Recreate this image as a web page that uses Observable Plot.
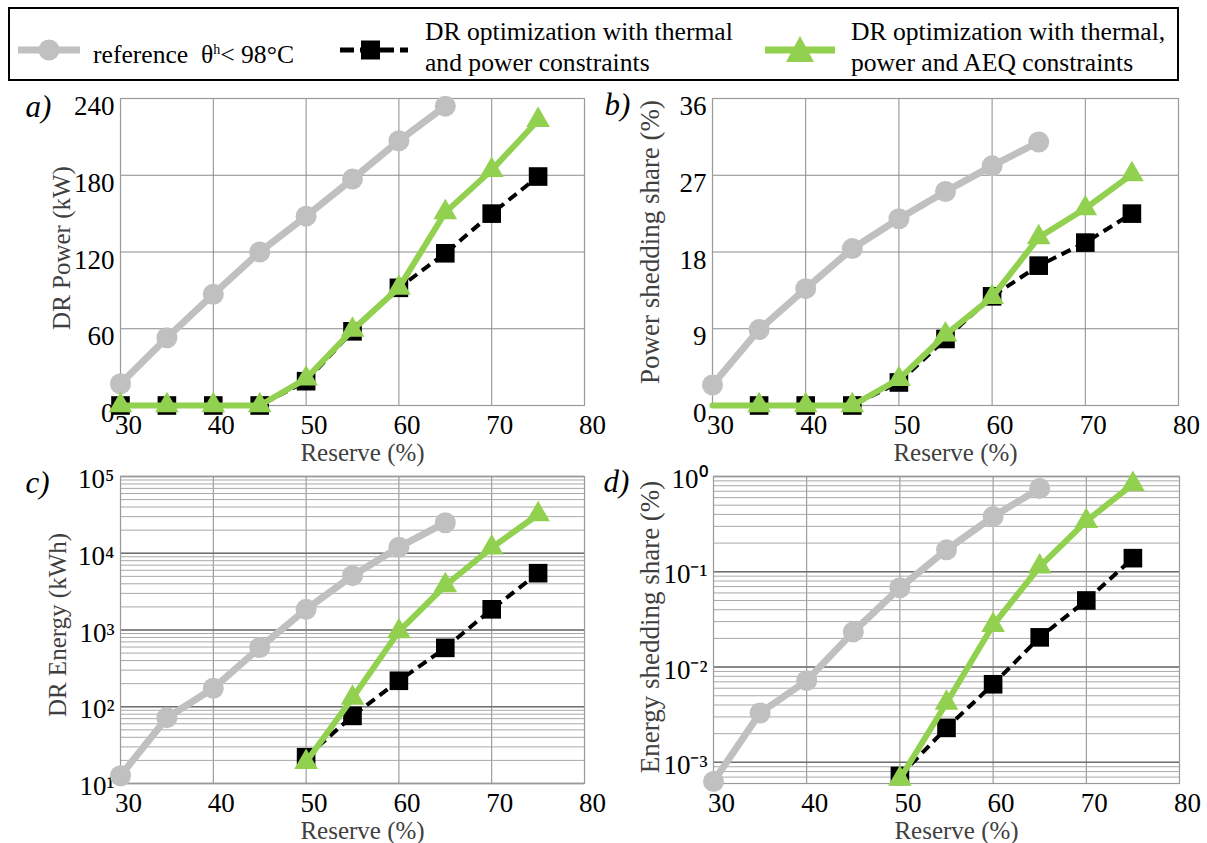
<!DOCTYPE html>
<html><head><meta charset="utf-8">
<script src="https://cdn.jsdelivr.net/npm/d3@7"></script>
<script src="https://cdn.jsdelivr.net/npm/@observablehq/plot@0.6"></script>
<style>
body{margin:0;background:#fff;font-family:"Liberation Serif","Times New Roman",serif;}
#root{position:relative;width:1207px;height:843px;overflow:hidden;background:#fff;}
.abs{position:absolute;}
#legendBox{left:8px;top:7px;width:1171px;height:74px;border:2px solid #000;box-sizing:border-box;}
.ltext{font-size:25.6px;line-height:31px;color:#000;white-space:nowrap;}
</style>
</head><body>
<div id="root">
  <div id="legendBox" class="abs"></div>
  <svg class="abs" style="left:18px;top:35px" width="64" height="30">
    <line x1="0" x2="62" y1="15" y2="15" stroke="#c0c0c0" stroke-width="7"/>
    <circle cx="31" cy="15" r="10.5" fill="#c0c0c0"/>
  </svg>
  <div class="abs ltext" style="left:93px;top:34px">reference&nbsp; θ<sup style="font-size:14px;vertical-align:9px">h</sup>&lt; 98°C</div>
  <svg class="abs" style="left:340px;top:35px" width="70" height="30">
    <line x1="0" x2="68" y1="15" y2="15" stroke="#000" stroke-width="5" stroke-dasharray="14,6"/>
    <rect x="21" y="5.5" width="19" height="19" fill="#000"/>
  </svg>
  <div class="abs ltext" style="left:425px;top:16px">DR optimization with thermal<br>and power constraints</div>
  <svg class="abs" style="left:765px;top:35px" width="70" height="30">
    <line x1="0" x2="70" y1="15" y2="15" stroke="#92d050" stroke-width="7"/>
    <polygon points="35,1 49,27 21,27" fill="#92d050"/>
  </svg>
  <div class="abs ltext" style="left:851px;top:16px">DR optimization with thermal,<br>power and AEQ constraints</div>
  <div id="pa" class="abs" style="left:0;top:85px"></div>
  <div id="pb" class="abs" style="left:600px;top:85px"></div>
  <div id="pc" class="abs" style="left:0;top:465px"></div>
  <div id="pd" class="abs" style="left:600px;top:465px"></div>
</div>
<script>
// ---- data (Reserve %) ----
const reserve = [30, 35, 40, 45, 50, 55, 60, 65, 70, 75];
const reserveRef = [30, 35, 40, 45, 50, 55, 60, 65];
const reserveHigh = [50, 55, 60, 65, 70, 75];

// a) DR Power (kW)
const refPower   = [17, 53, 87, 120, 148, 177, 207, 234];
const thermPower = [0, 0, 0, 0, 19, 58, 92, 119, 150, 179];
const aeqPower   = [0, 0, 0, 0, 21, 59, 92, 151, 184, 223];

// b) Power shedding share (%)
const refPowerShare   = [2.4, 8.9, 13.7, 18.4, 21.9, 25.1, 28.1, 30.9];
const thermPowerShare = [0, 0, 0, 0, 2.7, 7.8, 12.8, 16.4, 19.1, 22.5];
const aeqPowerShare   = [0, 0, 0, 0, 3.1, 8.3, 12.7, 19.7, 23.1, 27.1];

// c) DR Energy (kWh)
const refEnergy   = [12.6, 72, 174, 590, 1860, 5100, 12000, 25000];
const thermEnergy = [22, 76, 218, 585, 1860, 5500];
const aeqEnergy   = [19, 130, 960, 3800, 11800, 32000];

// d) Energy shedding share (%)
const refEnergyShare   = [6.3e-4, 3.3e-3, 7.2e-3, 0.0234, 0.068, 0.17, 0.38, 0.75];
const thermEnergyShare = [7.2e-4, 2.3e-3, 6.6e-3, 0.0205, 0.050, 0.139];
const aeqEnergyShare   = [6.7e-4, 4.2e-3, 0.0276, 0.113, 0.34, 0.83];

// tick labels
const xTicks = [30, 40, 50, 60, 70, 80];
const xGrid = [40, 50, 60, 70];
const powerTicks = [0, 60, 120, 180, 240];
const powerShareTicks = [0, 9, 18, 27, 36];
const energyTicks = [10, 100, 1000, 10000, 100000];
const energyShareTicks = [0.001, 0.01, 0.1, 1];

const GRAY = "#c0c0c0", GREEN = "#92d050", BLACK = "#000";
const SERIF = "'Liberation Serif','Times New Roman',serif";
const zip = (xs, ys) => xs.map((x, i) => ({x, y: ys[i]}));
const SUP = {"0":"⁰","1":"¹","2":"²","3":"³","4":"⁴","5":"⁵","6":"⁶","7":"⁷","8":"⁸","9":"⁹","-":"⁻"};
const pow10 = d => "10" + String(Math.round(Math.log10(d))).split("").map(c => SUP[c]).join("");

function panel(o) {
  const ref = zip(o.refX, o.ref), th = zip(o.thX, o.th), aq = zip(o.aqX, o.aq);
  const mth = th.filter(o.markerFilter || (() => true));
  const maq = aq.filter(o.markerFilter || (() => true));
  const isLog = o.log;
  const marks = [
    Plot.gridX(xGrid, {stroke: "#8a8a8a", strokeOpacity: 1, strokeWidth: 1}),
  ];
  if (isLog) {
    marks.push(Plot.gridY({ticks: 60, stroke: "#a8a8a8", strokeOpacity: 1, strokeWidth: 1}));
    marks.push(Plot.gridY(o.yTicks, {stroke: "#707070", strokeOpacity: 1, strokeWidth: 1.5}));
  } else {
    marks.push(Plot.gridY(o.yTicks, {stroke: "#8a8a8a", strokeOpacity: 1, strokeWidth: 1}));
  }
  marks.push(
    Plot.frame({stroke: "#9a9a9a", strokeWidth: 1.2}),
    Plot.axisX({ticks: xTicks, tickSize: 0, tickPadding: 9, dx: 8, fontSize: 27, fontFamily: SERIF, label: null}),
    Plot.axisY({ticks: o.yTicks, tickSize: 0, tickPadding: 6, dy: isLog ? 3 : 8, fontSize: 27, fontFamily: SERIF, label: null,
                tickFormat: isLog ? pow10 : d => String(d)}),
    Plot.text(["Reserve (%)"], {frameAnchor: "bottom", lineAnchor: "middle", textAnchor: "middle", dy: 47, dx: 10, fontSize: 25, fontFamily: SERIF, fill: "#404040"}),
    Plot.text([o.ylabel], {frameAnchor: "left", lineAnchor: "middle", textAnchor: "middle", rotate: -90, dx: o.ylDx, dy: o.ylDy, fontSize: o.ylSize, fontFamily: SERIF, fill: "#404040"}),
    Plot.text([o.tag], {frameAnchor: "top-left", lineAnchor: "middle", textAnchor: "middle", dx: o.tagDx, dy: o.tagDy, fontSize: 31, fontFamily: SERIF, fontStyle: "italic", fill: "#000"}),
    Plot.line(ref, {x: "x", y: "y", stroke: GRAY, strokeWidth: 7}),
    Plot.dot(ref, {x: "x", y: "y", r: 10.5, fill: GRAY, symbol: "circle"}),
    Plot.line(th, {x: "x", y: "y", stroke: BLACK, strokeWidth: 4, strokeDasharray: "10,6", strokeLinecap: "butt"}),
    Plot.dot(mth, {x: "x", y: "y", r: 10.5, fill: BLACK, symbol: "square"}),
    Plot.line(aq, {x: "x", y: "y", stroke: GREEN, strokeWidth: 6}),
    Plot.dot(maq, {x: "x", y: "y", r: 8.8, fill: GREEN, symbol: "triangle"})
  );
  const chart = Plot.plot({
    width: o.width, height: o.height,
    marginLeft: o.ml, marginRight: o.mr, marginTop: o.mt, marginBottom: o.mb,
    style: {fontFamily: SERIF, fontSize: "26px", color: "#000", background: "transparent", overflow: "visible"},
    x: {domain: [30, 80]},
    y: isLog ? {type: "log", domain: o.yDomain} : {domain: o.yDomain},
    marks
  });
  document.getElementById(o.el).appendChild(chart);
}

panel({el: "pa", width: 600, height: 380, ml: 120, mr: 16, mt: 13, mb: 60,
  refX: reserveRef, ref: refPower, thX: reserve, th: thermPower, aqX: reserve, aq: aeqPower,
  yDomain: [0, 240], yTicks: powerTicks, ylabel: "DR Power (kW)", ylDx: -59, ylDy: -4, ylSize: 25,
  tag: "a)", tagDx: -82, tagDy: 9});

panel({el: "pb", width: 607, height: 380, ml: 112, mr: 29, mt: 13, mb: 60,
  refX: reserveRef, ref: refPowerShare, thX: reserve, th: thermPowerShare, aqX: reserve, aq: aeqPowerShare,
  markerFilter: d => d.x > 30,
  yDomain: [0, 36], yTicks: powerShareTicks, ylabel: "Power shedding share (%)", ylDx: -62, ylDy: -10, ylSize: 27,
  tag: "b)", tagDx: -95, tagDy: 7});

panel({el: "pc", width: 600, height: 378, ml: 120, mr: 16, mt: 11, mb: 60, log: true,
  refX: reserveRef, ref: refEnergy, thX: reserveHigh, th: thermEnergy, aqX: reserveHigh, aq: aeqEnergy,
  yDomain: [10, 100000], yTicks: energyTicks, ylabel: "DR Energy (kWh)", ylDx: -63, ylDy: -5, ylSize: 25,
  tag: "c)", tagDx: -83, tagDy: 7});

panel({el: "pd", width: 607, height: 378, ml: 113, mr: 28, mt: 11, mb: 60, log: true,
  refX: reserveRef, ref: refEnergyShare, thX: reserveHigh, th: thermEnergyShare, aqX: reserveHigh, aq: aeqEnergyShare,
  yDomain: [0.0006, 1], yTicks: energyShareTicks, ylabel: "Energy shedding share (%)", ylDx: -63, ylDy: -3, ylSize: 27,
  tag: "d)", tagDx: -97, tagDy: 6});
</script>
</body></html>
